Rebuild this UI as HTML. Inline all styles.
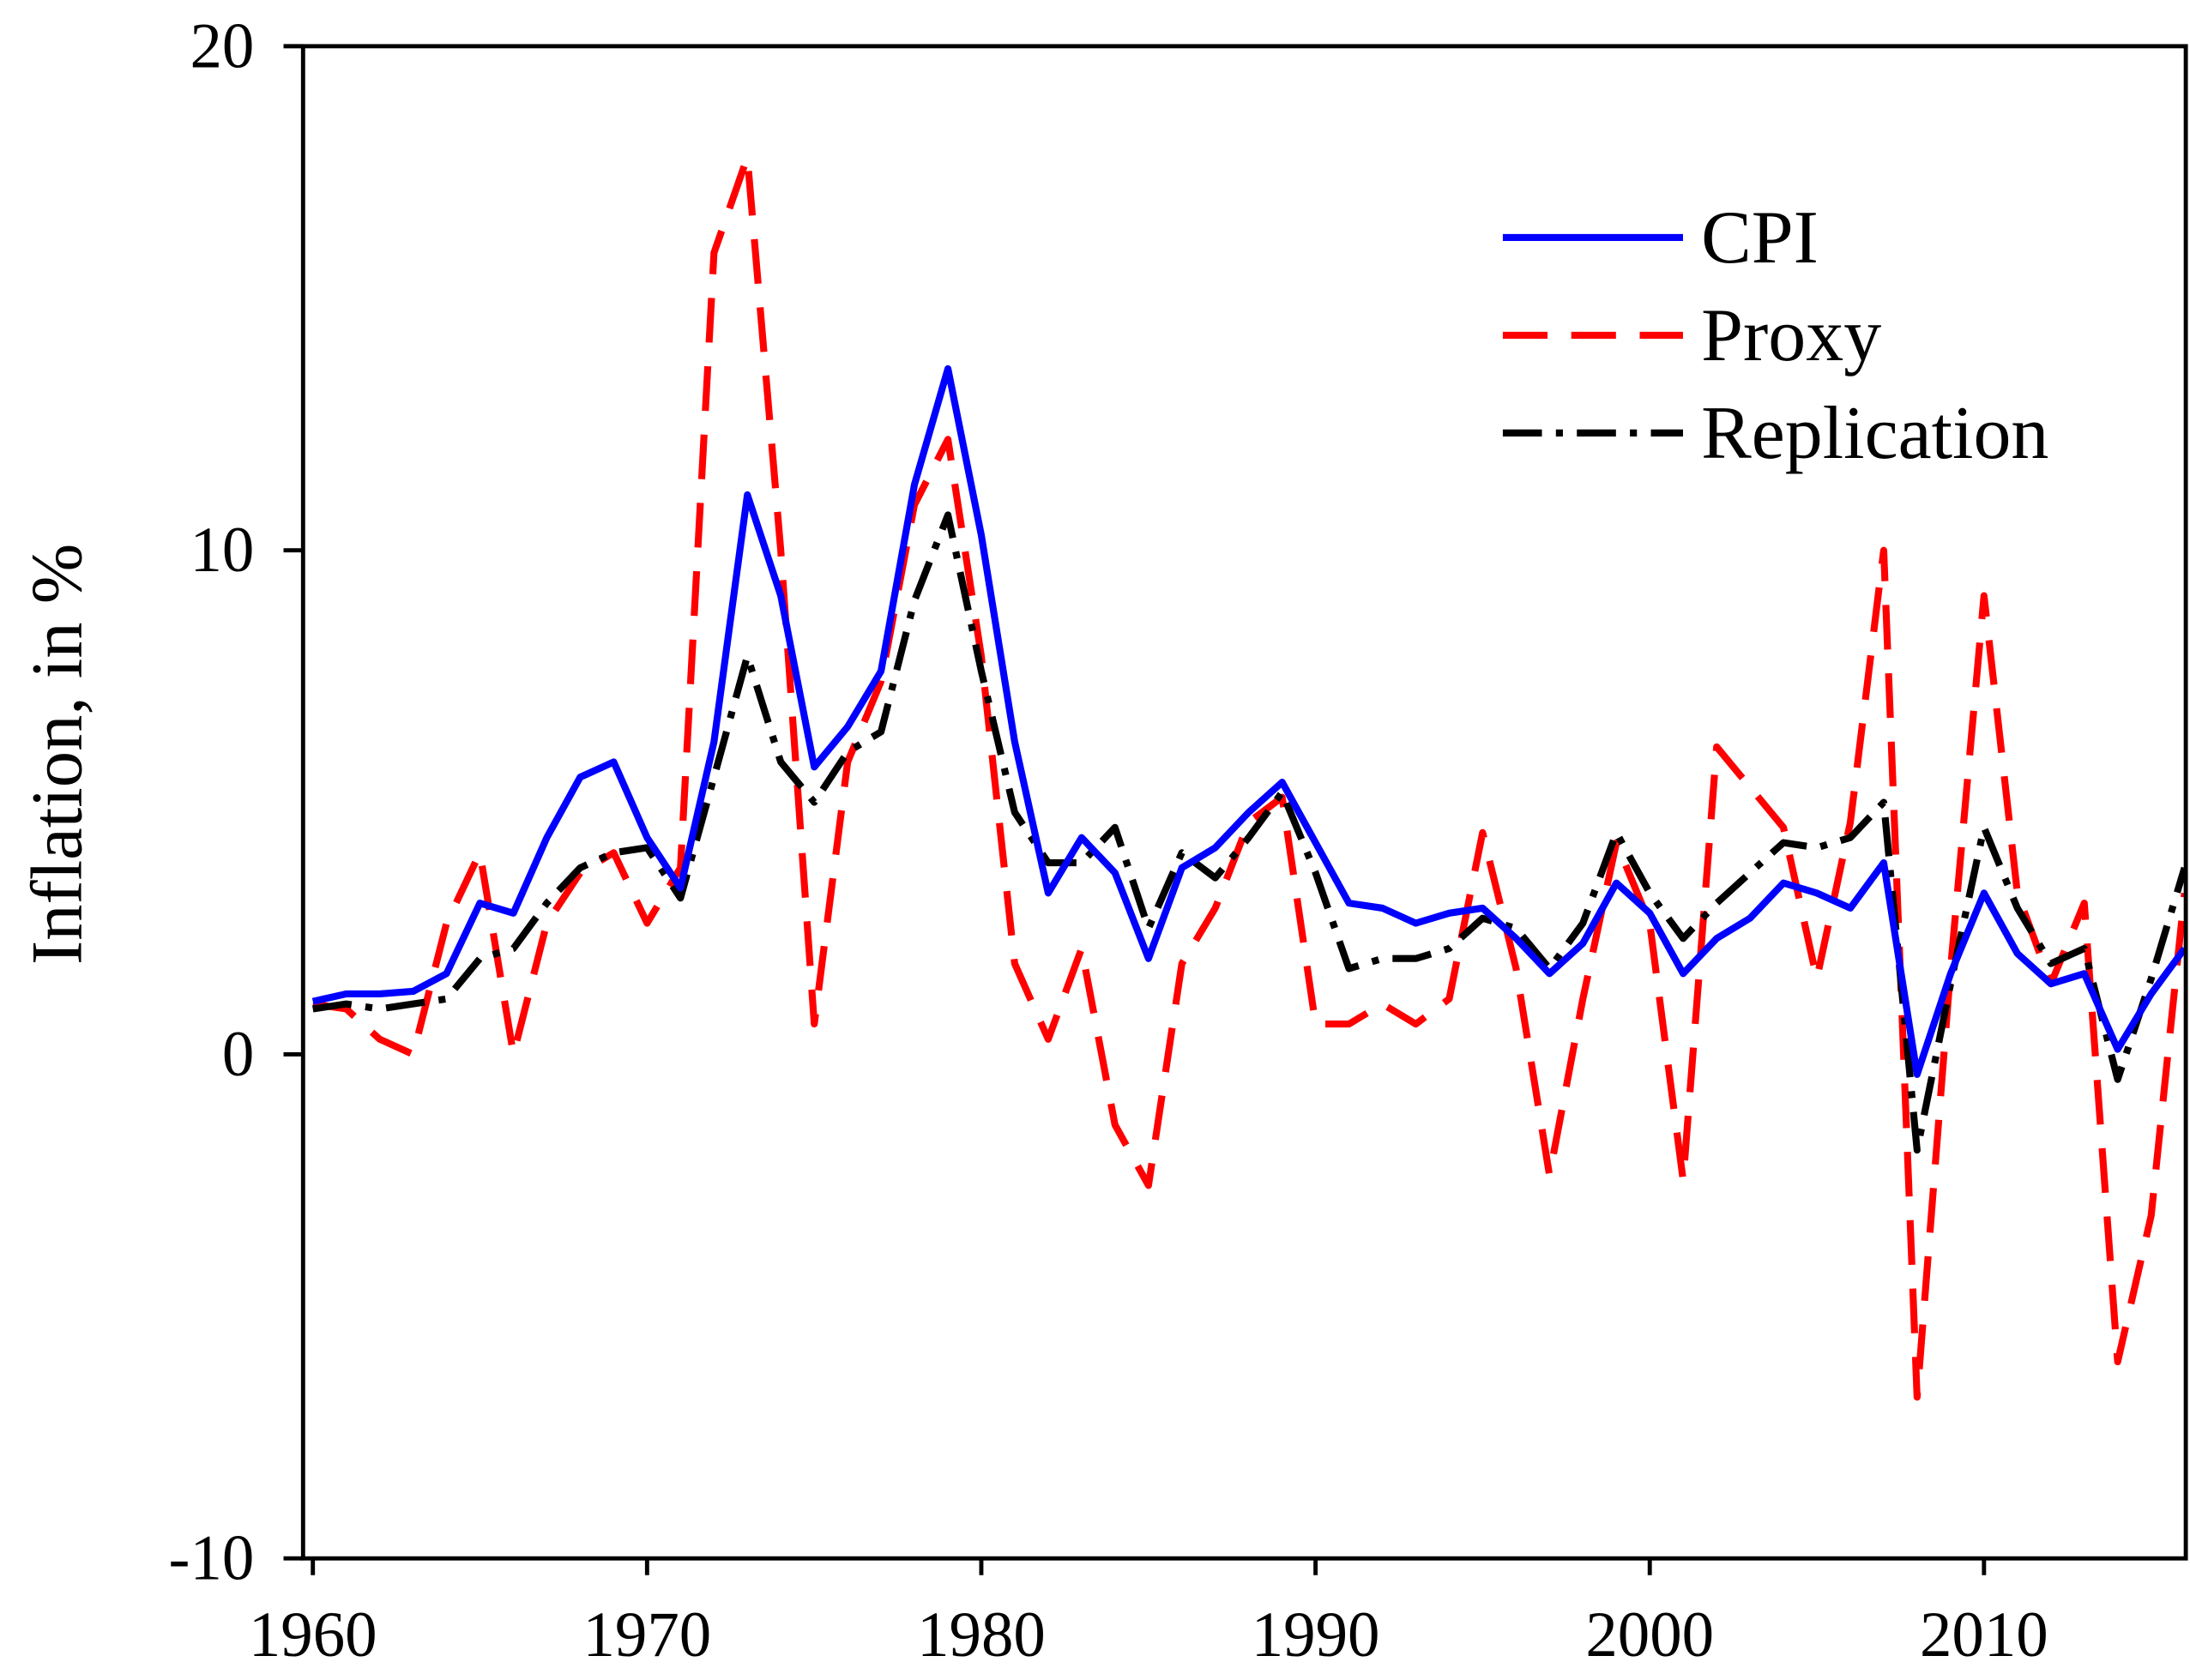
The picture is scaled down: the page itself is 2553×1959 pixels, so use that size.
<!DOCTYPE html>
<html><head><meta charset="utf-8"><style>
html,body{margin:0;padding:0;background:#fff}
svg{display:block}
text{font-family:"Liberation Serif",serif;fill:#000}
</style></head><body>
<svg id="chart" width="2553" height="1959" viewBox="0 0 1568 1203" xmlns="http://www.w3.org/2000/svg">
<g id="plot"></g>
</svg>
<script>
const years = [];
for (let y = 1960; y <= 2016; y++) years.push(y);
const cpiValues = [1.05,1.2,1.2,1.25,1.6,3.0,2.8,4.3,5.5,5.8,4.3,3.3,6.2,11.1,9.1,5.7,6.5,7.6,11.3,13.6,10.3,6.2,3.2,4.3,3.6,1.9,3.7,4.1,4.8,5.4,4.2,3.0,2.9,2.6,2.8,2.9,2.3,1.6,2.2,3.4,2.8,1.6,2.3,2.7,3.4,3.2,2.9,3.8,-0.4,1.6,3.2,2.0,1.4,1.6,0.1,1.2,2.1];
const proxyValues = [1.0,0.9,0.3,0.0,2.6,4.0,0.0,2.6,3.6,4.0,2.6,3.7,15.9,17.8,10.0,0.6,5.8,7.4,10.9,12.2,7.9,1.8,0.3,2.1,-1.4,-2.6,1.8,2.9,4.6,5.1,0.6,0.6,1.0,0.6,1.1,4.4,1.7,-2.4,1.1,4.2,2.6,-2.5,6.1,5.3,4.5,1.5,4.6,10.0,-6.8,1.7,9.1,3.2,1.4,3.0,-6.1,-3.2,3.2];
const replicationValues = [0.9,1.0,0.9,1.0,1.1,1.9,2.1,3.0,3.7,4.0,4.1,3.1,5.5,7.9,5.8,5.0,6.0,6.4,9.0,10.7,7.6,4.8,3.8,3.8,4.5,2.5,4.0,3.5,4.3,5.2,3.6,1.7,1.9,1.9,2.1,2.7,2.5,1.7,2.6,4.4,3.2,2.3,3.0,3.6,4.2,4.1,4.3,5.0,-1.9,1.4,4.5,2.9,1.8,2.1,-0.5,1.5,3.7];
const xTicks = [1960,1970,1980,1990,2000,2010];
const yTicks = [-10,0,10,20];
const legendLabels = ["CPI","Proxy","Replication"];

const L=217,R=1565,T=33,B=1116;
const xs = y => 224 + (y-1960)*23.93;
const ys = v => 755 - v*36.1;
const NS="http://www.w3.org/2000/svg";
const g=document.getElementById('plot');
function mk(tag,attrs,parent){const e=document.createElementNS(NS,tag);for(const k in attrs)e.setAttribute(k,attrs[k]);(parent||g).appendChild(e);return e;}

const clip=mk('clipPath',{id:'c'});mk('rect',{x:L,y:T,width:R-L,height:B-T},clip);

const series=[
 {vals:proxyValues,color:'#ff0000',dash:'32 17',name:'proxy-line'},
 {vals:replicationValues,color:'#000',dash:'28 10 5 10',name:'replication-line'},
 {vals:cpiValues,color:'#0000ff',dash:'',name:'cpi-line'}
];
series.forEach(s=>{
  const d=s.vals.map((v,i)=>(i?'L':'M')+xs(years[i]).toFixed(1)+' '+ys(v).toFixed(1)).join(' ');
  const p=mk('path',{d:d,fill:'none',stroke:s.color,'stroke-width':5,'stroke-dasharray':s.dash,'clip-path':'url(#c)','stroke-linejoin':'round'});
  
  
});

const frame=mk('rect',{x:L,y:T,width:R-L,height:B-T,fill:'none',stroke:'#000','stroke-width':3});



xTicks.forEach(t=>{
  const x=xs(t);
  const tk=mk('line',{x1:x,x2:x,y1:B,y2:B+12,stroke:'#000','stroke-width':3});
  
  
  const tx=mk('text',{x:x,y:B+70,'text-anchor':'middle','font-size':46});
  tx.textContent=t;
  
  
});
yTicks.forEach(t=>{
  const y=ys(t);
  const tk=mk('line',{x1:L-14,x2:L,y1:y,y2:y,stroke:'#000','stroke-width':3});
  
  
  const tx=mk('text',{x:182,y:y+15,'text-anchor':'end','font-size':46});
  tx.textContent=t;
  
  
});
const yl=mk('text',{x:58,y:540,'text-anchor':'middle','font-size':52,transform:'rotate(-90 58 540)'});
yl.textContent='Inflation, in %';



const legendStyles=[['#0000ff',''],['#ff0000','32 17'],['#000','28 10 5 10']];
legendLabels.forEach((lab,i)=>{
  const y=170+i*70;
  const ln=mk('line',{x1:1076,x2:1205,y1:y,y2:y,stroke:legendStyles[i][0],'stroke-width':5,'stroke-dasharray':legendStyles[i][1]});
  
  
  const tx=mk('text',{x:1218,y:y+18,'font-size':54});
  tx.textContent=lab;
  
  
});
</script>
</body></html>
